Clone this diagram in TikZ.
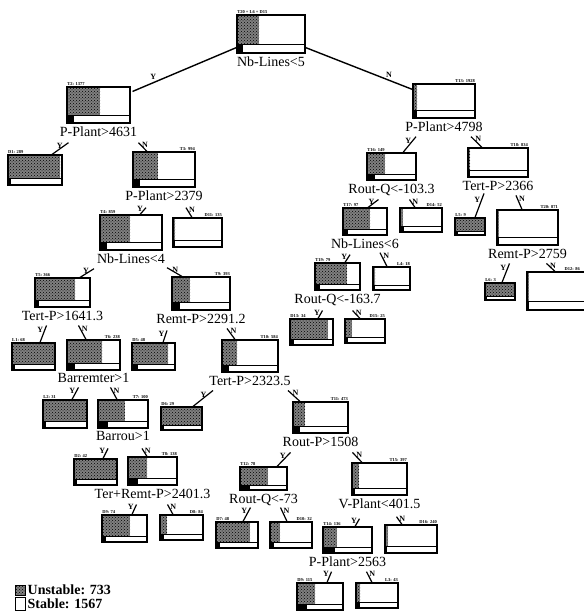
\documentclass[tikz,border=0pt]{standalone}
\usepackage{fontspec}
\setmainfont{Liberation Serif}
\usetikzlibrary{positioning,calc,patterns}

\begin{document}
\begin{tikzpicture}[x=1pt, y=-1pt,
        dotfill/.style={fill=black!50, postaction={pattern=crosshatch dots}},
        tbox/.style n args={4}{draw, line width=1.1pt, inner sep=0pt,
            minimum width=#1pt, minimum height=#2pt,
            path picture={
                \path (path picture bounding box.south west) coordinate (pp-sw)
                      (path picture bounding box.north west) coordinate (pp-nw)
                      (path picture bounding box.south east) coordinate (pp-se)
                      (path picture bounding box.north east) coordinate (pp-ne);
                \fill[dotfill] (pp-nw) rectangle ($(pp-sw)!0.22!(pp-nw) + (#3,0)$);
                \fill (pp-sw) rectangle ($(pp-sw)!0.22!(pp-nw) + (#4,0)$);
                \draw[line width=0.8pt] ($(pp-sw)!0.22!(pp-nw)$) -- ($(pp-se)!0.22!(pp-ne)$);
            }},
        tag/.style={font=\fontsize{4.5}{5}\selectfont\bfseries, inner sep=0.6pt},
        tagl/.style={label={[tag, anchor=south west]north west:#1}},
        tagr/.style={label={[tag, anchor=south east]north east:#1}},
        cond/.style={font=\fontsize{14}{15}\selectfont, inner sep=1pt},
        branch/.style={line width=1.2pt},
        yes/.style={font=\fontsize{8}{9}\selectfont\bfseries, inner sep=1pt, pos=0.75, left},
        no/.style={font=\fontsize{8}{9}\selectfont\bfseries, inner sep=1pt, pos=0.75, right},
        key/.style={draw, line width=0.9pt, inner sep=0pt, minimum width=10pt, minimum height=10pt},
        legend/.style={font=\fontsize{14}{15}\selectfont\bfseries, inner sep=1pt}
    ]
    \useasboundingbox (0,0) rectangle (583,615);

    % boxes
    \node[tbox={68}{38}{22}{6}, tagl={T20 + L6 + D15}] (root) at (271,34) {};
    \node[tbox={63}{36}{33}{7}, tagl={T2: 1377}] (t2) at (98.5,105) {};
    \node[tbox={62}{34}{4}{4}, tagr={T13: 1928}] (t13) at (444,101) {};
    \node[tbox={54}{30}{52}{3}, tagl={D1: 289}] (d1) at (35,170) {};
    \node[tbox={62}{35}{25}{7}, tagr={T3: 994}] (t3) at (164,169.5) {};
    \node[tbox={49}{27}{18}{8}, tagl={T16: 149}] (t16) at (391.5,166.5) {};
    \node[tbox={60}{29}{2}{2}, tagr={T18: 834}] (t18) at (498,162.5) {};
    \node[tbox={62}{35}{30}{7}, tagl={T4: 859}] (t4) at (131,232.5) {};
    \node[tbox={49}{29}{2}{2}, tagr={D11: 135}] (d11) at (197.5,232.5) {};
    \node[tbox={44}{27}{27}{5}, tagl={T17: 97}] (t17) at (365,221.5) {};
    \node[tbox={42}{24}{3}{4}, tagr={D14: 52}] (d14) at (421,220) {};
    \node[tbox={30}{17}{30}{3}, tagl={L5: 9}] (l5) at (470,226.5) {};
    \node[tbox={61}{35}{2}{2}, tagr={T20: 871}] (t20) at (527.5,227.5) {};
    \node[tbox={55}{29}{40}{4}, tagl={T5: 366}] (t5) at (62.5,292.5) {};
    \node[tbox={58}{33}{18}{8}, tagr={T9: 393}] (t9) at (201,293.5) {};
    \node[tbox={45}{27}{32}{5}, tagl={T19: 79}] (t19) at (337.5,276.5) {};
    \node[tbox={37}{23}{2}{2}, tagr={L4: 18}] (l4) at (391.5,278.5) {};
    \node[tbox={30}{17}{30}{2}, tagl={L6: 3}] (l6) at (500,291.5) {};
    \node[tbox={71}{38}{2}{2}, label={[tag, anchor=south east, xshift=-18pt]north east:D12: 86}] (d12) at (562.5,291) {};
    \node[tbox={43}{27}{43}{3}, tagl={L1: 68}] (l1) at (33.5,356.5) {};
    \node[tbox={53}{30}{35}{8}, tagr={T6: 238}] (t6) at (93.5,355) {};
    \node[tbox={43}{27}{36}{6}, tagl={D5: 48}] (d5) at (153.5,356.5) {};
    \node[tbox={56}{32}{15}{7}, tagr={T10: 584}] (t10) at (250,356) {};
    \node[tbox={43}{26}{38}{4}, tagl={D13: 34}] (d13) at (311.5,332) {};
    \node[tbox={40}{24}{7}{3}, tagr={D15: 25}] (d15) at (365,331) {};
    \node[tbox={44}{28}{44}{3}, tagl={L2: 31}] (l2) at (65,414) {};
    \node[tbox={50}{28}{27}{10}, tagr={T7: 100}] (t7) at (123,414) {};
    \node[tbox={41}{23}{41}{3}, tagl={D6: 29}] (d6) at (181.5,418.5) {};
    \node[tbox={55}{31}{12}{7}, tagr={T11: 473}] (t11) at (320.5,417.5) {};
    \node[tbox={43}{26}{43}{3}, tagl={D2: 42}] (d2) at (95.5,472) {};
    \node[tbox={49}{28}{19}{10}, tagr={T8: 138}] (t8) at (152.5,471) {};
    \node[tbox={47}{23}{28}{10}, tagl={T12: 78}] (t12) at (263.5,478.5) {};
    \node[tbox={55}{32}{7}{3}, tagr={T15: 397}] (t15) at (379.5,479) {};
    \node[tbox={45}{27}{28}{4}, tagl={D9: 74}] (d9) at (124.5,528.5) {};
    \node[tbox={43}{25}{7}{4}, tagr={D8: 84}] (d8) at (181.5,527.5) {};
    \node[tbox={42}{26}{34}{4}, tagl={D7: 48}] (d7) at (237,535) {};
    \node[tbox={42}{26}{10}{4}, tagr={D10: 32}] (d10) at (291,535) {};
    \node[tbox={49}{26}{14}{12}, tagl={T14: 136}] (t14) at (347.5,540) {};
    \node[tbox={52}{28}{3}{2}, tagr={D16: 240}] (d16) at (411,539) {};
    \node[tbox={46}{27}{18}{10}, tagl={D9: 115}] (d9b) at (320,596.5) {};
    \node[tbox={42}{25}{4}{4}, tagr={L3: 43}] (l3) at (377,595.5) {};

    % tests
    \node[cond, below=2pt of root] (c1) {Nb-Lines<5};
    \node[cond, below=2pt of t2] (c2) {P-Plant>4631};
    \node[cond, below=2pt of t13] (c13) {P-Plant>4798};
    \node[cond, below=2pt of t3] (c3) {P-Plant>2379};
    \node[cond, below=2pt of t16] (c16) {Rout-Q<-103.3};
    \node[cond, below=2pt of t18] (c18) {Tert-P>2366};
    \node[cond, below=2pt of t4] (c4) {Nb-Lines<4};
    \node[cond, below=2pt of t17] (c17) {Nb-Lines<6};
    \node[cond, below=2pt of t20] (c20) {Remt-P>2759};
    \node[cond, below=2pt of t5] (c5) {Tert-P>1641.3};
    \node[cond, below=2pt of t9] (c9) {Remt-P>2291.2};
    \node[cond, below=2pt of t19] (c19) {Rout-Q<-163.7};
    \node[cond, below=2pt of t6] (c6) {Barremter>1};
    \node[cond, below=2pt of t10] (c10) {Tert-P>2323.5};
    \node[cond, below=2pt of t7] (c7) {Barrou>1};
    \node[cond, below=2pt of t11] (c11) {Rout-P>1508};
    \node[cond, below=2pt of t8] (c8) {Ter+Remt-P>2401.3};
    \node[cond, below=2pt of t12] (c12) {Rout-Q<-73};
    \node[cond, below=2pt of t15] (c15) {V-Plant<401.5};
    \node[cond, below=2pt of t14] (c14) {P-Plant>2563};

    % branches
    \draw[branch, line width=1.4pt] ([yshift=6pt]root.south west) -- ([shift={(2,5)}]t2.north east)
        node[pos=0.8, above, font=\fontsize{8}{9}\selectfont\bfseries, inner sep=2pt] {Y};
    \draw[branch, line width=1.4pt] ([yshift=6pt]root.south east) -- ([shift={(0,6)}]t13.north west)
        node[pos=0.78, above, font=\fontsize{8}{9}\selectfont\bfseries, inner sep=2pt] {N};
    \draw[branch] ([xshift=17pt]d1.north) -- ([shift={(-30,11)}]c2.center) node[yes] {Y};
    \draw[branch] ([xshift=-17pt]t3.north) -- ([shift={(40,11)}]c2.center) node[no] {N};
    \draw[branch] ([xshift=11.5pt]t16.north) -- ([shift={(-28,10)}]c13.center) node[yes] {Y};
    \draw[branch] ([xshift=-16pt]t18.north) -- ([shift={(27,10)}]c13.center) node[no] {N};
    \draw[branch] ([xshift=9pt]t4.north) -- ([shift={(-18,12)}]c3.center) node[yes] {Y};
    \draw[branch] ([xshift=-5.5pt]d11.north) -- ([shift={(22,12)}]c3.center) node[no] {N};
    \draw[branch] ([xshift=3pt]t17.north) -- ([shift={(-13,10)}]c16.center) node[yes] {Y};
    \draw[branch] ([xshift=-6pt]d14.north) -- ([shift={(18,10)}]c16.center) node[no] {N};
    \draw[branch] ([xshift=5pt]l5.north) -- ([shift={(-14,8)}]c18.center) node[yes] {Y};
    \draw[branch] ([xshift=-5.5pt]t20.north) -- ([shift={(18,10)}]c18.center) node[no] {N};
    \draw[branch] ([xshift=17.5pt]t5.north) -- ([shift={(-37,10)}]c4.center) node[yes] {Y};
    \draw[branch] ([xshift=-19pt]t9.north) -- ([shift={(36,9)}]c4.center) node[no] {N};
    \draw[branch] ([xshift=7.5pt]t19.north) -- ([shift={(-15,11)}]c17.center) node[yes] {Y};
    \draw[branch] ([xshift=-4.5pt]l4.north) -- ([shift={(15,9)}]c17.center) node[no] {N};
    \draw[branch] ([xshift=2pt]l6.north) -- ([shift={(-18,10)}]c20.center) node[yes] {Y};
    \draw[branch] ([xshift=-7.5pt]d12.north) -- ([shift={(19,10)}]c20.center) node[no] {N};
    \draw[branch] ([xshift=6.5pt]l1.north) -- ([shift={(-16,10)}]c5.center) node[yes] {Y};
    \draw[branch] ([xshift=-7.5pt]t6.north) -- ([shift={(16,10)}]c5.center) node[no] {N};
    \draw[branch] ([xshift=9.5pt]d5.north) -- ([shift={(-34,12)}]c9.center) node[yes] {Y};
    \draw[branch] ([xshift=-15pt]t10.north) -- ([shift={(26,10)}]c9.center) node[no] {N};
    \draw[branch] ([xshift=6.5pt]d13.north) -- ([shift={(-15,11)}]c19.center) node[yes] {Y};
    \draw[branch] ([xshift=-5pt]d15.north) -- ([shift={(15,11)}]c19.center) node[no] {N};
    \draw[branch] ([xshift=7pt]l2.north) -- ([shift={(-15,9)}]c6.center) node[yes] {Y};
    \draw[branch] ([xshift=-6pt]t7.north) -- ([shift={(17,9)}]c6.center) node[no] {N};
    \draw[branch] ([xshift=11.5pt]d6.north) -- ([shift={(-37,10)}]c10.center) node[yes] {Y};
    \draw[branch] ([xshift=-20.5pt]t11.north) -- ([shift={(38,10)}]c10.center) node[no] {N};
    \draw[branch] ([xshift=7.5pt]d2.north) -- ([shift={(-15,12)}]c7.center) node[yes] {Y};
    \draw[branch] ([xshift=-5.5pt]t8.north) -- ([shift={(19,12)}]c7.center) node[no] {N};
    \draw[branch] ([xshift=13.5pt]t12.north) -- ([shift={(-30,11)}]c11.center) node[yes] {Y};
    \draw[branch] ([xshift=-17.5pt]t15.north) -- ([shift={(32,11)}]c11.center) node[no] {N};
    \draw[branch] ([xshift=7.5pt]d9.north) -- ([shift={(-16,11)}]c8.center) node[yes] {Y};
    \draw[branch] ([xshift=-8.5pt]d8.north) -- ([shift={(15,11)}]c8.center) node[no] {N};
    \draw[branch] ([xshift=6pt]d7.north) -- ([shift={(-13,8)}]c12.center) node[yes] {Y};
    \draw[branch] ([xshift=-4pt]d10.north) -- ([shift={(17,8)}]c12.center) node[no] {N};
    \draw[branch] ([xshift=7.5pt]t14.north) -- ([shift={(-20,15)}]c15.center) node[yes] {Y};
    \draw[branch] ([xshift=-9pt]d16.north) -- ([shift={(17,13)}]c15.center) node[no] {N};
    \draw[branch] ([xshift=7pt]d9b.north) -- ([shift={(-16,10)}]c14.center) node[yes] {Y};
    \draw[branch] ([xshift=-5pt]l3.north) -- ([shift={(19,10)}]c14.center) node[no] {N};

    % legend
    \node[key, dotfill] (keyu) at (20,590) {};
    \node[key, minimum height=13pt] (keys) at (20,603.5) {};
    \node[legend, right=1pt of keyu] (keyut) {Unstable: 733};
    \node[legend, right=1pt of keys] (keyst) {Stable: 1567};
\end{tikzpicture}
\end{document}
